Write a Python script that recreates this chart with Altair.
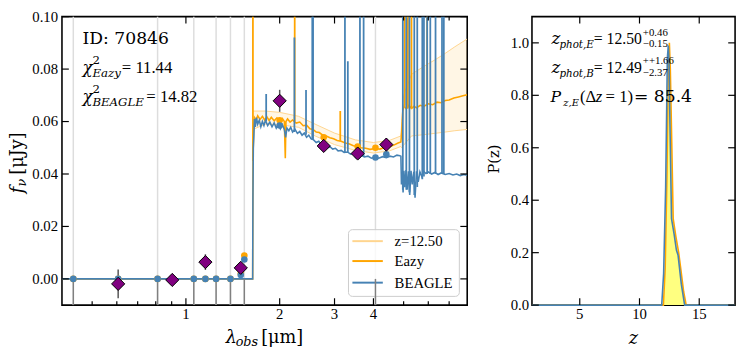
import altair as alt
import pandas as pd

FONT_T = "Liberation Serif"
FONT_M = "DejaVu Serif"
BLUE = "#4682b4"
ORANGE = "#ffa500"
LIGHT_ORANGE = "#ffd58f"
PURPLE = "#800080"
W1, W2, H = 413, 207, 294
TOP = 12.9  # page y of plot top (used to convert measured page positions of annotations)

# ---------------- photometry ----------------
gray_filter_wl = [0.435, 0.811, 1.06, 1.25, 1.39, 1.54, 4.06]

obs_wl = [0.606, 0.904, 1.155, 1.50, 2.00, 2.77, 3.56, 4.40]
obs_flux = [-0.0019, -0.0004, 0.0064, 0.0042, 0.0679, 0.0507, 0.0478, 0.0512]
obs_err = [0.0055, 0.0008, 0.0030, 0.0015, 0.0042, 0.0022, 0.0020, 0.0025]

model_wl = [0.435, 0.606, 0.811, 0.904, 1.06, 1.155, 1.25, 1.39, 1.50, 1.54,
            2.00, 2.77, 3.56, 4.06, 4.40]
beagle_phot = [0, 0, 0, 0, 0, 0, 0, 0, 0.0015, 0.0074,
               0.0585, 0.0505, 0.0470, 0.0463, 0.0475]
eazy_phot = [0, 0, 0, 0, 0, 0, 0, 0, 0.0020, 0.0089,
             0.0605, 0.0540, 0.0505, 0.0500, 0.0510]

# ---------------- spectra ----------------
beagle_wl = [0.40, 1.638, 1.641, 1.646, 1.652, 1.66, 1.67, 1.685, 1.70, 1.72,
             1.74, 1.76, 1.78, 1.80, 1.83, 1.86, 1.89, 1.92, 1.95, 1.98,
             2.01, 2.04, 2.07, 2.09, 2.11, 2.14, 2.17, 2.20, 2.24, 2.28,
             2.32, 2.36, 2.40, 2.44, 2.48, 2.52, 2.57, 2.62, 2.67, 2.72,
             2.78, 2.84, 2.90, 2.96, 3.02, 3.08, 3.15, 3.22, 3.30, 3.38,
             3.46, 3.55, 3.64, 3.74, 3.84, 3.94, 4.05, 4.16, 4.28, 4.40,
             4.52, 4.64, 4.76, 4.86, 4.90, 4.92, 4.95, 4.98, 5.01, 5.05,
             5.09, 5.13, 5.18, 5.23, 5.28, 5.33, 5.39, 5.44, 5.50, 5.57,
             5.64, 5.72, 5.80, 5.90, 6.00, 6.15, 6.30, 6.45, 6.60, 6.80,
             7.00, 7.20, 7.40, 7.60, 7.80, 8.00]
beagle_flux = [0.0, 0.0, 0.030, 0.050, 0.054, 0.061, 0.058, 0.0615, 0.059, 0.0605,
               0.058, 0.0600, 0.0585, 0.0605, 0.0585, 0.0598, 0.0580, 0.0595, 0.0575, 0.0590,
               0.0572, 0.0588, 0.0570, 0.0540, 0.0575, 0.0565, 0.0578, 0.0560, 0.0570, 0.0555,
               0.0562, 0.0548, 0.0556, 0.0540, 0.0548, 0.0535, 0.0530, 0.0520, 0.0525, 0.0512,
               0.0508, 0.0500, 0.0504, 0.0495, 0.0498, 0.0488, 0.0490, 0.0482, 0.0484, 0.0476,
               0.0478, 0.0470, 0.0472, 0.0465, 0.0468, 0.0460, 0.0464, 0.0460, 0.0466, 0.0462,
               0.0468, 0.0465, 0.0472, 0.0470, 0.0468, 0.0360, 0.0405, 0.0330, 0.0412, 0.0350,
               0.0415, 0.0340, 0.0410, 0.0320, 0.0412, 0.0360, 0.0408, 0.0310, 0.0410, 0.0370,
               0.0408, 0.0390, 0.0410, 0.0402, 0.0408, 0.0400, 0.0406, 0.0398, 0.0404, 0.0398,
               0.0402, 0.0396, 0.0400, 0.0394, 0.0398, 0.0395]

eazy_wl = [0.40, 1.638, 1.642, 1.65, 1.66, 1.68, 1.70, 1.73, 1.76, 1.79,
           1.82, 1.85, 1.88, 1.92, 1.96, 2.00, 2.04, 2.07, 2.085, 2.095,
           2.12, 2.16, 2.20, 2.26, 2.32, 2.38, 2.44, 2.50, 2.56, 2.62,
           2.68, 2.75, 2.82, 2.90, 2.98, 3.06, 3.15, 3.25, 3.35, 3.45,
           3.55, 3.65, 3.78, 3.90, 4.05, 4.20, 4.35, 4.50, 4.65, 4.80,
           4.90, 4.93, 4.97, 5.02, 5.10, 5.20, 5.30, 5.40, 5.50, 5.65,
           5.80, 6.00, 6.20, 6.40, 6.60, 6.80, 7.00, 7.25, 7.50, 7.75,
           8.00]
eazy_flux = [0.0, 0.0, 0.045, 0.058, 0.0615, 0.0605, 0.0622, 0.0608, 0.0620, 0.0606,
             0.0618, 0.0604, 0.0616, 0.0603, 0.0614, 0.0602, 0.0612, 0.0600, 0.0460, 0.0600,
             0.0610, 0.0598, 0.0606, 0.0594, 0.0598, 0.0584, 0.0586, 0.0572, 0.0570, 0.0560,
             0.0558, 0.0548, 0.0545, 0.0538, 0.0534, 0.0528, 0.0525, 0.0518, 0.0514, 0.0508,
             0.0505, 0.0500, 0.0498, 0.0494, 0.0497, 0.0495, 0.0502, 0.0504, 0.0510, 0.0518,
             0.0522, 0.0560, 0.0640, 0.0660, 0.0648, 0.0662, 0.0650, 0.0658, 0.0652, 0.0662,
             0.0658, 0.0668, 0.0664, 0.0674, 0.0672, 0.0680, 0.0682, 0.0690, 0.0694, 0.0698,
             0.0702]

band_wl = [1.642, 1.8, 2.0, 2.3, 2.6, 3.0, 3.5, 4.0, 4.5, 4.9, 4.93, 5.0, 5.3, 5.8, 6.3, 6.8, 7.3, 8.0]
band_lo = [0.057, 0.0590, 0.0588, 0.0578, 0.0545, 0.0512, 0.0490, 0.0480, 0.0488, 0.0505,
           0.0500, 0.0510, 0.0545, 0.0550, 0.0555, 0.0560, 0.0565, 0.0570]
band_hi = [0.064, 0.0640, 0.0635, 0.0620, 0.0590, 0.0556, 0.0530, 0.0520, 0.0528, 0.0545,
           0.0600, 0.0700, 0.0780, 0.0810, 0.0835, 0.0860, 0.0885, 0.0915]

# emission lines (continuum level -> peak)
beagle_line_wl = [1.81, 2.23, 2.43, 2.545, 2.56, 3.24, 3.31, 3.62, 3.72, 4.97, 5.10,
                  5.22, 5.41, 5.53, 5.74, 5.81, 5.95, 6.09, 6.33, 6.64, 6.73]
beagle_line_base = [0.060, 0.056, 0.055, 0.053, 0.053, 0.0483, 0.0484, 0.047, 0.0466, 0.034, 0.034,
                    0.033, 0.032, 0.035, 0.038, 0.039, 0.040, 0.040, 0.040, 0.040, 0.040]
beagle_line_peak = [0.0705, 0.092, 0.072, 0.12, 0.12, 0.12, 0.083, 0.12, 0.12, 0.12, 0.12,
                    0.12, 0.12, 0.12, 0.12, 0.12, 0.12, 0.12, 0.12, 0.12, 0.12]

eazy_line_wl = [1.641, 2.235, 3.13, 5.04, 5.16, 5.30, 5.95]
eazy_line_base = [0.045, 0.060, 0.0525, 0.066, 0.065, 0.065, 0.066]
eazy_line_peak = [0.12, 0.12, 0.064, 0.12, 0.12, 0.12, 0.12]

# ---------------- P(z) ----------------
pz_eazy_z = [1.0, 12.0, 12.15, 12.3, 12.42, 12.5, 12.58, 12.7, 12.82, 13.05, 13.28, 13.45, 13.7, 13.91, 18.0]
pz_eazy_p = [0, 0, 0.14, 0.5, 0.92, 1.0, 0.9, 0.62, 0.33, 0.26, 0.2, 0.14, 0.05, 0, 0]
pz_beagle_z = [1.0, 11.86, 12.02, 12.19, 12.33, 12.41, 12.48, 12.55, 12.68, 12.9, 13.09, 13.23, 13.5, 13.78, 18.0]
pz_beagle_p = [0, 0, 0.12, 0.45, 0.94, 0.99, 0.92, 0.69, 0.33, 0.27, 0.21, 0.19, 0.08, 0, 0]

# ticks / labels
left_y_ticks = [0.0, 0.02, 0.04, 0.06, 0.08, 0.10]
left_y_labels = ["0.00", "0.02", "0.04", "0.06", "0.08", "0.10"]
left_x_major = [1, 2, 3, 4]
left_x_labels = ["1", "2", "3", "4"]
left_x_minor_bottom = [0.5, 0.6, 0.7, 0.8, 0.9, 5, 6, 7]
left_x_minor_top = [5, 6, 7]
right_x_ticks = [5, 10, 15]
right_x_labels = ["5", "10", "15"]
right_y_ticks = [0.0, 0.2, 0.4, 0.6, 0.8, 1.0]
right_y_labels = ["0.0", "0.2", "0.4", "0.6", "0.8", "1.0"]
legend_labels = ["z=12.50", "Eazy", "BEAGLE"]
legend_colors = [LIGHT_ORANGE, ORANGE, BLUE]

# ---------------- scales ----------------
xs = alt.Scale(type="log", domain=[0.4, 8.0], nice=False)
ys = alt.Scale(domain=[-0.01, 0.10], nice=False, zero=False)
zs = alt.Scale(domain=[1, 18], nice=False, zero=False)
ps = alt.Scale(domain=[0, 1.1], nice=False, zero=False)

one = pd.DataFrame({"a": [0]})


def txt(s, x, y, size, font=FONT_M, italic=False, angle=None, align="left", baseline="alphabetic"):
    kw = dict(text=s, fontSize=size, font=font, color="black", align=align, baseline=baseline)
    if italic:
        kw["fontStyle"] = "italic"
    if angle is not None:
        kw["angle"] = angle
    return alt.Chart(one).mark_text(**kw).encode(x=alt.value(x), y=alt.value(y))


def X(f="wl"):
    return alt.X(f"{f}:Q", scale=xs, axis=None)


def Y(f):
    return alt.Y(f"{f}:Q", scale=ys, axis=None)


gray_df = pd.DataFrame({"wl": gray_filter_wl, "lo": [-0.01] * len(gray_filter_wl),
                        "zero": [0.0] * len(gray_filter_wl)})
light = alt.Chart(gray_df).mark_rule(color="#dddddd", strokeWidth=1.5).encode(
    x=X(), y=alt.value(0), y2=alt.value(H))
dark = alt.Chart(gray_df).mark_rule(color="#808080", strokeWidth=1.5).encode(
    x=X(), y=Y("lo"), y2="zero:Q")

band_df = pd.DataFrame({"wl": band_wl, "lo": band_lo, "hi": band_hi})
band_area = alt.Chart(band_df).mark_area(color=ORANGE, opacity=0.1, clip=True).encode(
    x=X(), y=Y("lo"), y2="hi:Q")
band_lo_line = alt.Chart(band_df).mark_line(color=LIGHT_ORANGE, strokeWidth=1, clip=True).encode(
    x=X(), y=Y("lo"))
band_hi_line = alt.Chart(band_df).mark_line(color=LIGHT_ORANGE, strokeWidth=1, clip=True).encode(
    x=X(), y=Y("hi"))

eazy_df = pd.DataFrame({"wl": eazy_wl, "flux": eazy_flux})
beagle_df = pd.DataFrame({"wl": beagle_wl, "flux": beagle_flux})
eazy_line = alt.Chart(eazy_df).mark_line(color=ORANGE, strokeWidth=1.6, clip=True).encode(
    x=X(), y=Y("flux"))
beagle_line = alt.Chart(beagle_df).mark_line(color=BLUE, strokeWidth=1.6, clip=True).encode(
    x=X(), y=Y("flux"))

eazy_sp = alt.Chart(pd.DataFrame({"wl": eazy_line_wl, "b": eazy_line_base, "p": eazy_line_peak})).mark_rule(
    color=ORANGE, strokeWidth=1.8, clip=True).encode(x=X(), y=Y("b"), y2="p:Q")
beagle_sp = alt.Chart(pd.DataFrame({"wl": beagle_line_wl, "b": beagle_line_base, "p": beagle_line_peak})).mark_rule(
    color=BLUE, strokeWidth=1.8, clip=True).encode(x=X(), y=Y("b"), y2="p:Q")

obs_df = pd.DataFrame({"wl": obs_wl, "flux": obs_flux, "err": obs_err})
obs_df["lo"] = obs_df["flux"] - obs_df["err"]
obs_df["hi"] = obs_df["flux"] + obs_df["err"]
errbars = alt.Chart(obs_df).mark_rule(color="#555555", strokeWidth=1.5).encode(
    x=X(), y=Y("lo"), y2="hi:Q")
diamonds = alt.Chart(obs_df).mark_point(shape="diamond", filled=True, size=180, fill=PURPLE,
                                        stroke="black", strokeWidth=1, opacity=1).encode(x=X(), y=Y("flux"))

phot_df = pd.DataFrame({"wl": model_wl, "b": beagle_phot, "e": eazy_phot})
eazy_dots = alt.Chart(phot_df).mark_circle(size=45, color=ORANGE, opacity=1).encode(x=X(), y=Y("e"))
beagle_dots = alt.Chart(phot_df).mark_circle(size=45, color=BLUE, opacity=1).encode(x=X(), y=Y("b"))

# legend (manual)
leg_box = alt.Chart(one).mark_rect(fill="white", fillOpacity=0.8, stroke="#cccccc", strokeWidth=1,
                                   cornerRadius=4).encode(
    x=alt.value(292), x2=alt.value(405), y=alt.value(230 - TOP), y2=alt.value(298 - TOP))
leg_rows = [241.7 - TOP, 262 - TOP, 284 - TOP]
leg_layers = []
for lab, col, ry in zip(legend_labels, legend_colors, leg_rows):
    leg_layers.append(alt.Chart(one).mark_rule(color=col, strokeWidth=2).encode(
        x=alt.value(296), x2=alt.value(327), y=alt.value(ry)))
    leg_layers.append(txt(lab, 339, ry + 5, 15, font=FONT_T))


# inward ticks and tick labels
def yticks(vals, scale, width, ln):
    d = pd.DataFrame({"v": vals})
    l = alt.Chart(d).mark_rule(color="black", strokeWidth=1.2).encode(
        y=alt.Y("v:Q", scale=scale, axis=None), x=alt.value(0), x2=alt.value(ln))
    r = alt.Chart(d).mark_rule(color="black", strokeWidth=1.2).encode(
        y=alt.Y("v:Q", scale=scale, axis=None), x=alt.value(width - ln), x2=alt.value(width))
    return [l, r]


def xticks(vals, scale, ln, bottom=True, top=True):
    d = pd.DataFrame({"v": vals})
    out = []
    if bottom:
        out.append(alt.Chart(d).mark_rule(color="black", strokeWidth=1.2).encode(
            x=alt.X("v:Q", scale=scale, axis=None), y=alt.value(H - ln), y2=alt.value(H)))
    if top:
        out.append(alt.Chart(d).mark_rule(color="black", strokeWidth=1.2).encode(
            x=alt.X("v:Q", scale=scale, axis=None), y=alt.value(0), y2=alt.value(ln)))
    return out


def ylabels(vals, labels, scale, pad):
    d = pd.DataFrame({"v": vals, "t": labels})
    return alt.Chart(d).mark_text(font=FONT_T, fontSize=15, color="black", align="right",
                                  baseline="middle").encode(
        y=alt.Y("v:Q", scale=scale, axis=None), x=alt.value(-pad), text="t:N")


def xlabels(vals, labels, scale, pad):
    d = pd.DataFrame({"v": vals, "t": labels})
    return alt.Chart(d).mark_text(font=FONT_T, fontSize=15, color="black", align="center",
                                  baseline="top").encode(
        x=alt.X("v:Q", scale=scale, axis=None), y=alt.value(H + pad), text="t:N")


left_ticks = (yticks(left_y_ticks, ys, W1, 7) + xticks(left_x_major, xs, 7)
              + xticks(left_x_minor_bottom, xs, 4, top=False)
              + xticks(left_x_minor_top, xs, 4, bottom=False)
              + [ylabels(left_y_ticks, left_y_labels, ys, 4),
                 xlabels(left_x_major, left_x_labels, xs, 2)])

left_texts = [
    txt("ID: 70846", 21, 41 - TOP, 17.5),
    txt("χ", 21, 70 - TOP, 17, italic=True),
    txt("2", 31, 61 - TOP, 12),
    txt("Eazy", 31, 74 - TOP, 12, italic=True),
    txt("= 11.44", 61, 70 - TOP, 17, font=FONT_T),
    txt("χ", 21, 100 - TOP, 17, italic=True),
    txt("2", 31, 91 - TOP, 12),
    txt("BEAGLE", 31, 104 - TOP, 12, italic=True),
    txt("= 14.82", 86, 100 - TOP, 17, font=FONT_T),
    # axis titles
    txt("λ", 167, 345 - TOP, 18, italic=True),
    txt("obs", 177, 349 - TOP, 13, italic=True),
    txt("[μm]", 203, 345 - TOP, 18),
    txt("f", -40, 193 - TOP, 18, italic=True, angle=270),
    txt("ν", -37, 186 - TOP, 13, italic=True, angle=270),
    txt("[μJy]", -40, 174 - TOP, 18, angle=270),
]

left = alt.layer(
    light, band_area, band_lo_line, band_hi_line, eazy_line, eazy_sp, beagle_line, beagle_sp,
    leg_box, *leg_layers, dark, errbars, eazy_dots, beagle_dots, diamonds,
    *left_ticks, *left_texts
).properties(width=W1, height=H)

# ---------------- right panel ----------------
pe_df = pd.DataFrame({"z": pz_eazy_z, "p": pz_eazy_p})
pb_df = pd.DataFrame({"z": pz_beagle_z, "p": pz_beagle_p})
pz_area = alt.Chart(pe_df).mark_area(color="#ffff80", opacity=1).encode(
    x=alt.X("z:Q", scale=zs, axis=None), y=alt.Y("p:Q", scale=ps, axis=None))
pz_e = alt.Chart(pe_df).mark_line(color=ORANGE, strokeWidth=1.6).encode(
    x=alt.X("z:Q", scale=zs, axis=None), y=alt.Y("p:Q", scale=ps, axis=None))
pz_b = alt.Chart(pb_df).mark_line(color=BLUE, strokeWidth=1.6).encode(
    x=alt.X("z:Q", scale=zs, axis=None), y=alt.Y("p:Q", scale=ps, axis=None))

right_ticks = (yticks(right_y_ticks, ps, W2, 7) + xticks(right_x_ticks, zs, 7)
               + [ylabels(right_y_ticks, right_y_labels, ps, 3),
                  xlabels(right_x_ticks, right_x_labels, zs, 2)])

right_texts = [
    txt("z", 20, 41 - TOP, 17, italic=True),
    txt("phot,E", 28, 45 - TOP, 10.5, italic=True),
    txt("= 12.50", 63, 41 - TOP, 16, font=FONT_T),
    txt("+0.46", 113, 33 - TOP, 11, font=FONT_T),
    txt("−0.15", 113, 44 - TOP, 11, font=FONT_T),
    txt("z", 20, 70 - TOP, 17, italic=True),
    txt("phot,B", 28, 74 - TOP, 10.5, italic=True),
    txt("= 12.49", 63, 70 - TOP, 16, font=FONT_T),
    txt("++1.66", 113, 61 - TOP, 11, font=FONT_T),
    txt("−2.37", 113, 73 - TOP, 11, font=FONT_T),
    txt("P", 19, 100 - TOP, 16, italic=True),
    txt("z,E", 32, 104 - TOP, 10, italic=True),
    txt("(Δ", 49, 100 - TOP, 17, font=FONT_T),
    txt("z", 65, 100 - TOP, 17, font=FONT_T, italic=True),
    txt("= 1)", 75, 100 - TOP, 17, font=FONT_T),
    txt("= 85.4", 104, 100 - TOP, 17.5),
    txt("z", 103.5, 347 - TOP, 18, italic=True, align="center"),
    txt("P(z)", -34, 158 - TOP, 15, angle=270, align="center"),
]

right = alt.layer(pz_area, pz_e, pz_b, *right_ticks, *right_texts).properties(width=W2, height=H)

chart = alt.hconcat(left, right, spacing=17).configure(
    padding={"left": 0, "top": -2.5, "right": 0, "bottom": 0}
).configure_view(stroke="black", strokeWidth=1.6)

chart.save("out.html", embed_options={"renderer": "svg", "actions": False})
